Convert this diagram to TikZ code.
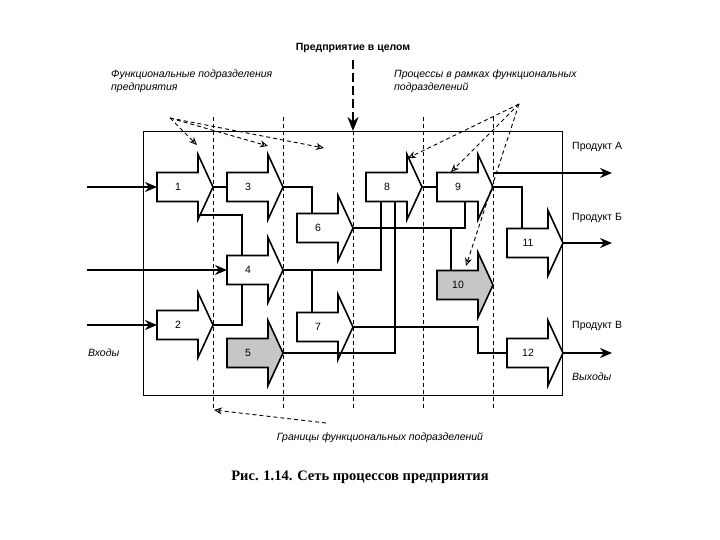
\documentclass[tikz,border=0pt]{standalone}
\usepackage{fontspec}
\setmainfont{Liberation Serif}
\newfontfamily\sansf{Liberation Sans}
\usetikzlibrary{arrows.meta}
\begin{document}
\begin{tikzpicture}[x=1pt,y=-1pt,
  blk/.style={line width=1.6pt,line join=miter},
  con/.style={line width=1.6pt},
  arr/.style={con,-{Stealth[length=12pt,width=10pt]}},
  dsh/.style={line width=0.9pt,dash pattern=on 4pt off 3pt},
  darr/.style={dsh,-{Stealth[length=8pt,width=7pt,open]}},
  lbl/.style={font=\sansf\fontsize{10.5}{12}\selectfont,inner sep=0pt},
  ilbl/.style={font=\sansf\itshape\fontsize{10.5}{12.5}\selectfont,inner sep=0pt,align=left}]
\newcommand{\parr}[5]{%
  \draw[blk,fill=#5] ({#2},{#3-14.5}) -- ({#2+41},{#3-14.5}) -- ({#2+41},{#3-32.5}) -- ({#2+56},{#3})
     -- ({#2+41},{#3+32.5}) -- ({#2+41},{#3+14.5}) -- ({#2},{#3+14.5}) -- cycle;
  \node[lbl] (#1) at ({#2+21},{#3}) {#4};
  \coordinate (#1-w) at ({#2},{#3});
  \coordinate (#1-e) at ({#2+56},{#3});
  \coordinate (#1-n) at ({#2},{#3-14.5});
  \coordinate (#1-s) at ({#2},{#3+14.5});}
\useasboundingbox (0,0) rectangle (720,540);
\fill[white] (0,0) rectangle (720,540);
% frame
\draw[line width=1pt] (143,132) rectangle (562,395);
\node[font=\sansf\bfseries\fontsize{10.5}{12}\selectfont] (ent) at (353,48) {Предприятие в целом};
\coordinate (entb) at (353,131);
\draw[line width=2.4pt,dash pattern=on 9pt off 4pt] (353,60) -- (353,116);
\draw[line width=2.4pt,-{Stealth[length=14pt,width=11pt]}] (353,116) -- (entb);
% process arrows
\parr{a1}{157}{187}{1}{white}
\parr{a3}{227}{187}{3}{white}
\parr{a6}{297}{228}{6}{white}
\parr{a4}{227}{270}{4}{white}
\parr{a2}{157}{325}{2}{white}
\parr{a7}{297}{327}{7}{white}
\parr{a5}{227}{353}{5}{gray!45}
\parr{a8}{366}{187}{8}{white}
\parr{a9}{437}{187}{9}{white}
\parr{a10}{437}{285}{10}{gray!45}
\parr{a11}{507}{243}{11}{white}
\parr{a12}{507}{353}{12}{white}
% boundaries
\foreach \x in {213,283,353,423,493} \draw[dsh] (\x,117) -- (\x,408);
% inputs
\coordinate (in1) at (87,187);
\coordinate (in2) at (87,270);
\coordinate (in3) at (87,325);
\draw[arr] (in1) -- (a1-w);
\draw[arr] (in2) -- (a4-w);
\draw[arr] (in3) -- (a2-w);
% internal links
\draw[con] (a1-e) -- (a3-w);
\coordinate (c1) at (199,215);
\draw[con] (c1) -| ([xshift=15pt]a4-n);
\draw[con] (a2-e) -| ([xshift=15pt]a4-s);
\draw[con] (a3-e) -| ([xshift=15pt]a6-n);
\draw[con] (a4-e) -| ([xshift=15pt]a8-s);
\draw[con] ([xshift=15pt]a7-n) -- ([xshift=15pt]a7-n |- a4-e);
\draw[con] (a5-e) -| ([xshift=29pt]a8-s);
\draw[con] (a6-e) -| ([xshift=28pt]a9-s);
\draw[con] ([xshift=14pt]a10-n) -- ([xshift=14pt]a10-n |- a6-e);
\draw[con] (a7-e) -- ++(125,0) |- (a12-w);
\draw[con] (a8-e) -- (a9-w);
\draw[con] (a9-e) -| ([xshift=15pt]a11-n);
% outputs
\coordinate (outA) at (612,173);
\coordinate (outB) at (612,243);
\coordinate (outC) at (612,353);
\draw[arr] ([yshift=14pt]a9-e) -- (outA);
\draw[arr] (a11-e) -- (outB);
\draw[arr] (a12-e) -- (outC);
\node[lbl,anchor=west] (pA) at (572,147) {Продукт А};
\node[lbl,anchor=west] (pB) at (572,218) {Продукт Б};
\node[lbl,anchor=west] (pC) at (572,326) {Продукт В};
\node[ilbl,anchor=west] (vyh) at (572,377) {Выходы};
\node[ilbl,anchor=west] (vh) at (88,353) {Входы};
% annotations
\node[ilbl,anchor=north west] (fp) at (111,70) {Функциональные подразделения\\предприятия};
\node[ilbl,anchor=north west] (pr) at (394,70) {Процессы в рамках функциональных\\подразделений};
\node[ilbl] (gr) at (380,438) {Границы функциональных подразделений};
\coordinate (o1) at (170,118);
\coordinate (t1) at (197,145);
\coordinate (t2) at (268,146);
\coordinate (t3) at (324,148);
\draw[darr] (o1) -- (t1);
\draw[darr] (o1) -- (t2);
\draw[darr] (o1) -- (t3);
\coordinate (o2) at (519,104);
\coordinate (t4) at (408,158);
\coordinate (t5) at (451,172);
\coordinate (t6) at (466,266);
\draw[darr] (o2) -- (t4);
\draw[darr] (o2) -- (t5);
\draw[darr] (o2) -- (t6);
\coordinate (o3) at (326,423);
\coordinate (t7) at (214,410);
\draw[darr] (o3) -- (t7);
\node[font=\bfseries\fontsize{14.5}{16}\selectfont] (cap) at (360,477) {Рис. 1.14. Сеть процессов предприятия};
\end{tikzpicture}
\end{document}
